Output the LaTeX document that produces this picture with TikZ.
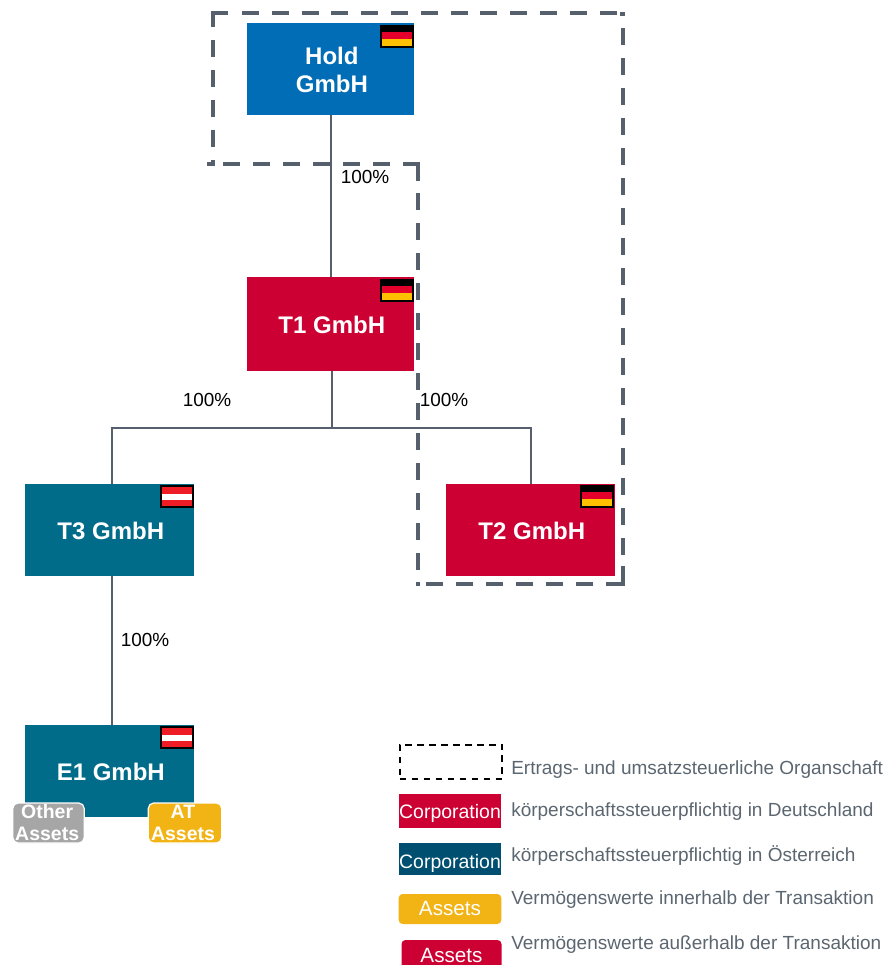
\documentclass[tikz,border=0pt]{standalone}
\usepackage{fontspec}
\setmainfont{Liberation Sans}
\definecolor{holdblue}{HTML}{006DB6}
\definecolor{corpred}{HTML}{CC0033}
\definecolor{teal1}{HTML}{006C89}
\definecolor{teal2}{HTML}{004F71}
\definecolor{gold}{HTML}{F2B315}
\definecolor{greyasset}{HTML}{A6A6A6}
\definecolor{slate}{HTML}{56606C}
\definecolor{legtext}{HTML}{5B6670}
\definecolor{flagred}{HTML}{E4002B}
\definecolor{flaggold}{HTML}{FFC000}
\definecolor{atred}{HTML}{EE1C25}
\tikzset{
  x=0.75pt,y=-0.75pt,
  entity/.style={inner sep=0pt,outer sep=0pt},
  entitytext/.style={inner sep=0pt,outer sep=0pt,font=\fontsize{18}{21}\selectfont\bfseries,text=white,align=center},
  pct/.style={inner sep=0pt,font=\fontsize{14.2}{16}\selectfont,text=black},
  link/.style={draw=slate,line width=1.4pt},
  orgsolid/.style={draw=slate,line width=3pt},
  org/.style={orgsolid,dash pattern=on 12.75pt off 9.75pt},
  asset/.style={draw=white,line width=0.9pt,rounded corners=4pt,inner sep=0pt,outer sep=0pt,font=\fontsize{14.6}{16.5}\selectfont\bfseries,text=white,align=center},
  legbox/.style={inner sep=0pt,outer sep=0pt,font=\fontsize{14.6}{16}\selectfont,text=white},
  assetlegend/.style={legbox,rounded corners=3pt,font=\fontsize{15.5}{16}\selectfont},
  legtxt/.style={inner sep=0pt,anchor=west,font=\fontsize{14.25}{16}\selectfont,text=legtext},
}
\newcommand{\flagde}[2]{%
  \fill[black] (#1,#2) rectangle ++(34,23);
  \fill[flagred] (#1+2,#2+7) rectangle ++(30,7);
  \fill[flaggold] (#1+2,#2+14) rectangle ++(30,7);
}
\newcommand{\flagat}[2]{%
  \fill[black] (#1,#2) rectangle ++(34,23);
  \fill[atred] (#1+2,#2+2) rectangle ++(30,19);
  \fill[white] (#1+2,#2+8.5) rectangle ++(30,6.5);
}
\newcommand{\boxnode}[7]{% name x1 y1 x2 y2 colour text
  \node[entity,fill=#6,minimum width=#4*0.75pt-#2*0.75pt,minimum height=#5*0.75pt-#3*0.75pt] (#1) at ({(#2+#4)/2},{(#3+#5)/2}) {};
  \node[entitytext,xshift=1pt,yshift=-0.75pt] (#1txt) at (#1.center) {#7};
}
\newcommand{\lowered}[2]{\smash{\raisebox{#1}{#2}}}
\begin{document}
\begin{tikzpicture}
\useasboundingbox (0,0) rectangle (889,965);
% organschaft outline
\draw[orgsolid] (228,13) -- (213,13) -- (213,27);
\draw[org,dash pattern=on 12.75pt off 9.6pt] (242,13) -- (617,13);
\draw[orgsolid] (620,13.5) -- (625,13.5);
\draw[org] (623,28) -- (623,555);
\draw[orgsolid] (623,566) -- (623,584) -- (606,584);
\draw[org] (593,584) -- (426,584);
\draw[orgsolid] (420,584) -- (416,584);
\draw[org] (418,570) -- (418,193);
\draw[orgsolid] (418,181) -- (418,164) -- (403,164);
\draw[org] (390,164) -- (223,164);
\draw[orgsolid] (215,164) -- (207,164);
\draw[org] (213,40) -- (213,147);
\draw[orgsolid] (213,160) -- (213,163);
% entities
\boxnode{hold}{247}{23}{414}{115}{holdblue}{Hold\\GmbH}
\boxnode{tone}{247}{277}{414}{371}{corpred}{T1 GmbH}
\boxnode{tthree}{25}{484}{194}{576}{teal1}{T3 GmbH}
\boxnode{ttwo}{446}{484}{615}{576}{corpred}{T2 GmbH}
\boxnode{eone}{25}{725}{194}{817}{teal1}{E1 GmbH}
% connectors
\coordinate (bus) at (332,428);
\draw[link] (hold.south -| 331,0) -- (tone.north -| 331,0);
\draw[link,line width=1.8pt] (tone.south -| bus) -- (bus);
\draw[link] (bus) -- (bus -| 112,0) -- (tthree.north -| 112,0);
\draw[link] (bus) -- (bus -| 531,0) -- (ttwo.north -| 531,0);
\draw[link] (tthree.south -| 112,0) -- (eone.north -| 112,0);
% flags
\flagde{380}{25}
\flagde{380}{279}
\flagde{580}{485}
\flagat{160}{485}
\flagat{160}{726}
% percentages
\node[pct] (p1) at (365,177) {100\%};
\node[pct] (p2) at (207,400) {100\%};
\node[pct] (p3) at (444,400) {100\%};
\node[pct] (p4) at (145,640) {100\%};
% assets
\node[asset,fill=greyasset,minimum width=53.5pt,minimum height=30pt] (other) at (48.5,823) {Other\hspace*{2pt}\\Assets\hspace*{2pt}};
\node[asset,fill=gold,minimum width=55pt,minimum height=30pt] (at) at (185,823) {AT\hspace*{3pt}\\Assets\hspace*{3pt}};
% legend
\node[draw=black,line width=1.3pt,dash pattern=on 5pt off 4pt,minimum width=77pt,minimum height=26pt,inner sep=0pt] (l1) at (451,762) {};
\node[legbox,fill=corpred,minimum width=77pt,minimum height=26pt] (l2) at (450,811) {\lowered{-5.25pt}{Corporation}};
\node[legbox,fill=teal2,minimum width=77pt,minimum height=24pt] (l3) at (450,859) {\lowered{-6.75pt}{Corporation}};
\node[assetlegend,fill=gold,minimum width=77pt,minimum height=22.5pt] (l4) at (450,909) {\lowered{-4.5pt}{Assets}};
\node[assetlegend,fill=corpred,minimum width=75pt,minimum height=22.5pt] (l5) at (451.5,955) {\lowered{-5.25pt}{Assets}};
\node[legtxt] (t1) at (511,770) {Ertrags- und umsatzsteuerliche Organschaft};
\node[legtxt] (t2) at (511,812) {körperschaftssteuerpflichtig in Deutschland};
\node[legtxt] (t3) at (511,856) {körperschaftssteuerpflichtig in Österreich};
\node[legtxt] (t4) at (511,900) {Vermögenswerte innerhalb der Transaktion};
\node[legtxt] (t5) at (511,945) {Vermögenswerte außerhalb der Transaktion};
\end{tikzpicture}
\end{document}
